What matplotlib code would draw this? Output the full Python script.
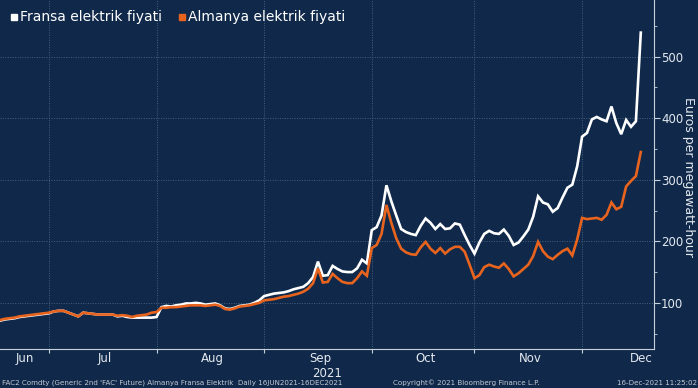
import pandas as pd
import numpy as np
import matplotlib
matplotlib.use("Agg")
import matplotlib.pyplot as plt
from matplotlib.lines import Line2D

# Business days 16 Jun 2021 - 16 Dec 2021
dates = pd.bdate_range("2021-06-16", "2021-12-16")

# Fransa (white) - euros per MWh
france_jun = [71, 73, 74, 75, 77, 78, 79, 80, 81, 82, 83]
france_jul = [86, 87, 87, 84, 81, 78, 84, 83, 82, 81, 81, 81, 81, 78, 79, 77,
              76, 76, 76, 76, 76, 77]
france_aug = [93, 95, 94, 96, 97, 99, 99, 100, 99, 97, 98, 99, 96, 91, 90, 92,
              95, 96, 97, 100, 104, 111]
france_sep = [113, 115, 116, 117, 119, 122, 124, 126, 132, 142, 167, 144, 145,
              160, 155, 151, 150, 150, 156, 170, 164, 218]
france_oct = [223, 242, 291, 265, 242, 220, 215, 212, 210, 225, 237, 230, 220,
              228, 220, 221, 229, 227, 210, 194, 180]
france_nov = [198, 212, 217, 213, 212, 219, 209, 194, 198, 208, 219, 240, 273,
              263, 260, 248, 254, 271, 287, 292, 322, 370]
france_dec = [376, 398, 402, 398, 395, 419, 392, 374, 397, 386, 395, 539]

# Almanya (orange)
germany_jun = [72, 74, 75, 76, 78, 79, 80, 81, 82, 83, 84]
germany_jul = [86, 87, 87, 84, 81, 78, 84, 83, 82, 81, 81, 81, 81, 79, 80, 79,
               77, 79, 80, 81, 84, 85]
germany_aug = [92, 92, 93, 93, 94, 95, 96, 96, 96, 95, 96, 97, 95, 90, 89, 91,
               94, 95, 96, 98, 100, 104]
germany_sep = [105, 106, 108, 110, 111, 113, 115, 118, 123, 132, 156, 133, 134,
               147, 140, 134, 132, 132, 140, 151, 144, 189]
germany_oct = [194, 212, 259, 230, 205, 188, 182, 179, 178, 190, 199, 188, 181,
               189, 180, 187, 191, 191, 183, 162, 140]
germany_nov = [145, 158, 162, 159, 157, 164, 155, 143, 148, 155, 162, 176, 199,
               184, 175, 171, 178, 184, 188, 177, 203, 238]
germany_dec = [236, 237, 238, 235, 243, 263, 252, 256, 289, 298, 306, 345]

france = france_jun + france_jul + france_aug + france_sep + france_oct + france_nov + france_dec
germany = germany_jun + germany_jul + germany_aug + germany_sep + germany_oct + germany_nov + germany_dec

month_names = ["Jun", "Jul", "Aug", "Sep", "Oct", "Nov", "Dec"]
y_ticks = [100, 200, 300, 400, 500]

bg = "#10294a"
orange = "#e8641e"
txt = "#e4e9ef"
grid_c = "#45607f"

x = np.arange(len(dates))

fig = plt.figure(figsize=(6.98, 3.88), dpi=100, facecolor=bg)
ax = fig.add_axes([0, 1 - 349 / 388, 654 / 698, 349 / 388], facecolor=bg)

ax.plot(x, france, color="white", lw=1.9, solid_joinstyle="miter", zorder=3)
ax.plot(x, germany, color=orange, lw=1.9, solid_joinstyle="miter", zorder=4)

ax.set_xlim(0, 133.7)
ax.set_ylim(25, 592)

# month boundaries = last business day of previous month
months = dates.to_period("M")
bounds = [i - 1 for i in range(1, len(dates)) if months[i] != months[i - 1]]
ax.set_xticks(bounds)
ax.set_xticklabels([])
ax.tick_params(axis="x", which="major", length=3, color="#c8d0da", direction="out")

# month labels centred on the full month (clipped to visible data for June)
centers = []
for m in months.unique():
    full = pd.bdate_range(m.start_time, m.end_time)
    offs = [int(np.busday_count(dates[0].date(), d.date())) for d in full]
    c = (offs[0] + offs[-1]) / 2
    if c < 0:
        vis = [i for i in range(len(dates)) if months[i] == m]
        c = (vis[0] + vis[-1]) / 2
    centers.append(c)
for c, name in zip(centers, month_names):
    ax.text(c, -0.01, name, transform=ax.get_xaxis_transform(), ha="center",
            va="top", color=txt, fontsize=8.5)
ax.text(centers[3] + 1.3, -0.052, "2021", transform=ax.get_xaxis_transform(),
        ha="center", va="top", color=txt, fontsize=8.5)

ax.yaxis.tick_right()
ax.set_yticks(y_ticks)
ax.set_yticks([50, 150, 250, 350, 450, 550], minor=True)
ax.tick_params(axis="y", which="major", length=4, color="#c8d0da", labelcolor=txt,
               labelsize=8.5, pad=1)
ax.tick_params(axis="y", which="minor", length=2.5, color="#c8d0da")
fig.text(689 / 698, 1 - 177 / 388, "Euros per megawatt-hour", rotation=270,
         color=txt, fontsize=9, ha="center", va="center")

ax.grid(True, which="major", color=grid_c, linestyle=(0, (1, 1.5)), lw=0.7)

for s in ["left", "top"]:
    ax.spines[s].set_visible(False)
for s in ["right", "bottom"]:
    ax.spines[s].set_color("#c8d0da")
    ax.spines[s].set_linewidth(0.8)

handles = [
    Line2D([], [], marker="s", color="white", ls="none", markersize=5),
    Line2D([], [], marker="s", color=orange, ls="none", markersize=5),
]
leg = ax.legend(handles, ["Fransa elektrik fiyati", "Almanya elektrik fiyati"],
                loc="upper left", bbox_to_anchor=(0.0, 0.998), ncol=2, frameon=False,
                fontsize=10, handlelength=0.6, handletextpad=0.15, columnspacing=1.1,
                borderaxespad=0.3)
for t in leg.get_texts():
    t.set_color("white")

foot = "#c3cad3"
fig.text(0.003, 0.004, "FAC2 Comdty (Generic 2nd 'FAC' Future) Almanya Fransa Elektrik  Daily 16JUN2021-16DEC2021",
         color=foot, fontsize=5.1, ha="left", va="bottom")
fig.text(0.668, 0.004, "Copyright\u00a9 2021 Bloomberg Finance L.P.", color=foot,
         fontsize=5.1, ha="center", va="bottom")
fig.text(0.998, 0.004, "16-Dec-2021 11:25:02", color=foot, fontsize=5.1,
         ha="right", va="bottom")

fig.savefig("out.png", dpi=100, facecolor=bg)
